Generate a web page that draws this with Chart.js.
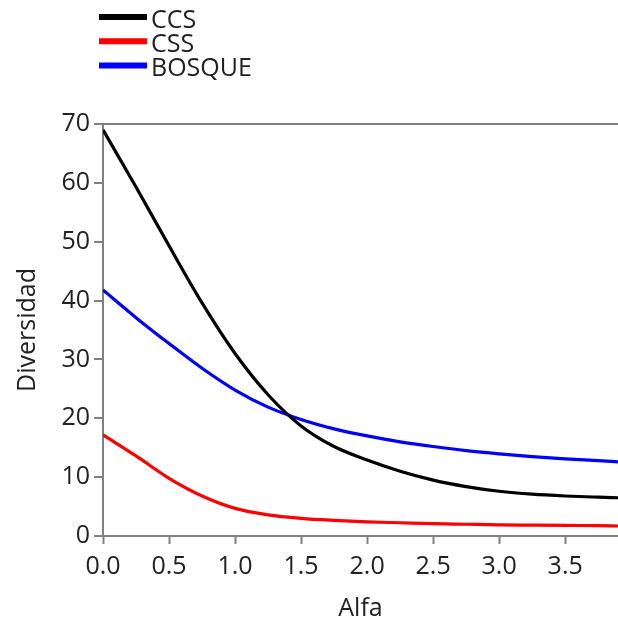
<!DOCTYPE html>
<html>
<head>
<meta charset="utf-8">
<script src="https://cdn.jsdelivr.net/npm/chart.js@4"></script>
<style>
  html,
  body {
    margin: 0;
    padding: 0;
    background: #fff;
  }

  #wrap {
    width: 618px;
    height: 620px;
  }
</style>
</head>
<body>
<div id="wrap"><canvas id="myChart"></canvas></div>
<script>
const alfa = [0, 0.25, 0.5, 0.75, 1, 1.25, 1.5, 1.75, 2, 2.25, 2.5, 2.75, 3, 3.25, 3.5, 3.75, 3.9];

const ccs = [69.0, 59.3, 49.3, 39.6, 31.0, 24.0, 18.7, 15.2, 12.9, 11.0, 9.5, 8.4, 7.6, 7.1, 6.8, 6.6, 6.5];
const css = [17.2, 13.6, 9.8, 6.8, 4.7, 3.6, 3.0, 2.65, 2.4, 2.25, 2.1, 2.0, 1.9, 1.85, 1.8, 1.75, 1.7];
const bosque = [41.8, 37.1, 32.7, 28.5, 24.8, 21.9, 19.8, 18.2, 17.0, 16.0, 15.2, 14.5, 13.95, 13.5, 13.1, 12.8, 12.6];

const xTicks = [0, 0.5, 1, 1.5, 2, 2.5, 3, 3.5];
const yTicks = [0, 10, 20, 30, 40, 50, 60, 70];

const FONT = "'Open Sans', 'Noto Sans', sans-serif";
const TEXT = "#222";
const AXIS = "#808080";

function points(values) {
  return alfa.map((a, i) => ({ x: a, y: values[i] }));
}

// vertical legend in the top-left corner
const legendList = {
  id: "legendList",
  afterDraw(chart) {
    const ctx = chart.ctx;
    ctx.save();
    ctx.font = "25px " + FONT;
    ctx.textBaseline = "alphabetic";
    chart.data.datasets.forEach((ds, i) => {
      const y = 17 + i * 24.2;
      ctx.strokeStyle = ds.borderColor;
      ctx.lineWidth = 6;
      ctx.beginPath();
      ctx.moveTo(99, y);
      ctx.lineTo(147, y);
      ctx.stroke();
      ctx.fillStyle = TEXT;
      ctx.fillText(ds.label, 151, y + 10.5);
    });
    ctx.restore();
  },
};

new Chart(document.getElementById("myChart"), {
  type: "line",

  data: {
    datasets: [
      {
        label: "CCS",
        data: points(ccs),
        borderColor: "#000000",
      },
      {
        label: "CSS",
        data: points(css),
        borderColor: "#ff0000",
      },
      {
        label: "BOSQUE",
        data: points(bosque),
        borderColor: "#0000ff",
      },
    ],
  },

  options: {
    responsive: true,
    maintainAspectRatio: false,
    animation: false,

    layout: {
      padding: { top: 124, right: 0, bottom: 0, left: 0 },
    },

    elements: {
      point: { radius: 0 },
      line: { borderWidth: 3.2, cubicInterpolationMode: "monotone" },
    },

    plugins: {
      legend: { display: false },
      tooltip: { enabled: false },
    },

    scales: {
      x: {
        type: "linear",
        min: 0,
        max: 3.9,
        afterBuildTicks: (scale) => {
          scale.ticks = xTicks.map((v) => ({ value: v }));
        },
        afterFit: (scale) => {
          scale.height = 84;
        },
        border: { color: AXIS, width: 2 },
        grid: {
          drawOnChartArea: false,
          tickLength: 8,
          tickColor: AXIS,
          tickWidth: 2,
        },
        ticks: {
          color: TEXT,
          font: { family: FONT, size: 25 },
          padding: 8,
          maxRotation: 0,
          callback: (v) => v.toFixed(1),
        },
        title: {
          display: true,
          text: "Alfa",
          color: TEXT,
          font: { family: FONT, size: 25 },
          padding: { top: 0, bottom: -4 },
        },
      },

      y: {
        type: "linear",
        min: 0,
        max: 70,
        afterBuildTicks: (scale) => {
          scale.ticks = yTicks.map((v) => ({ value: v }));
        },
        afterFit: (scale) => {
          scale.width = 103;
        },
        border: { color: AXIS, width: 2 },
        grid: {
          color: (ctx) => (ctx.tick && ctx.tick.value === 70 ? AXIS : "rgba(0,0,0,0)"),
          lineWidth: 2,
          tickLength: 9,
          tickColor: AXIS,
          tickWidth: 2,
        },
        ticks: {
          color: TEXT,
          font: { family: FONT, size: 25 },
          padding: 4,
        },
        title: {
          display: true,
          text: "Diversidad",
          color: TEXT,
          font: { family: FONT, size: 25 },
          padding: { top: 13, bottom: 0 },
        },
      },
    },
  },

  plugins: [legendList],
});
</script>
</body>
</html>
